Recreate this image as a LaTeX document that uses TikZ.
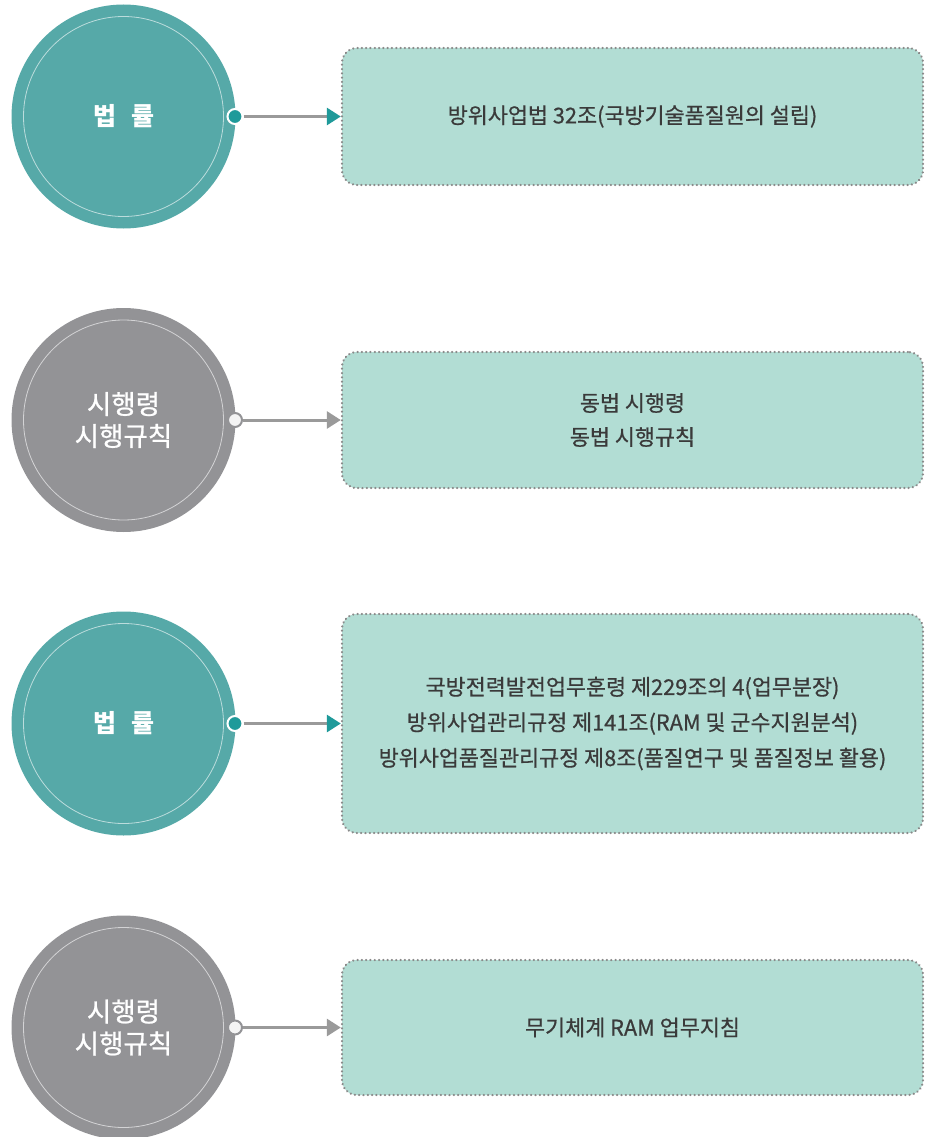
\documentclass[tikz,border=0pt]{standalone}
\usepackage{fontspec}
\setmainfont{Noto Sans CJK KR}
\newfontfamily\boxfont{Noto Sans CJK KR}[FakeBold=0.6]
\newfontfamily\circfont{Noto Sans CJK KR}[FakeBold=0.9]
\usetikzlibrary{arrows.meta}
\definecolor{tealc}{HTML}{56A9A8}
\definecolor{grayc}{HTML}{939396}
\definecolor{boxfill}{HTML}{B2DDD4}
\definecolor{boxline}{HTML}{8A8A8A}
\definecolor{connc}{HTML}{9A9A9A}
\definecolor{dotteal}{HTML}{1F9A9A}
\definecolor{txt}{HTML}{3A3A3A}
\tikzset{
  bigcirc/.style={circle, minimum size=224, inner sep=0pt},
  tealcirc/.style={bigcirc, fill=tealc},
  graycirc/.style={bigcirc, fill=grayc},
  ctext/.style={text=white, align=center, font=\circfont\fontsize{26.5}{32}\selectfont},
  databox/.style={draw=boxline, fill=boxfill, rounded corners=15, line width=2.4,
     dash pattern=on 0.1 off 4.2, line cap=round, minimum width=581, inner sep=0pt,
     text=txt, align=center, font=\boxfont\fontsize{21.8}{35.5}\selectfont},
  tealdot/.style={circle, fill=dotteal, draw=white, line width=2, minimum size=15, inner sep=0pt},
  graydot/.style={circle, fill=white!90!grayc, draw=grayc, line width=2, minimum size=14, inner sep=0pt},
  conn/.style={draw=connc, line width=3},
  tealarrow/.style={conn, -{Triangle[length=14,width=17,color=dotteal]}},
  grayarrow/.style={conn, -{Triangle[length=14,width=17,color=connc]}},
}
\begin{document}
\begin{tikzpicture}[x=1pt,y=-1pt]
\useasboundingbox (0,0) rectangle (925,1137);
% circles
\node[tealcirc] (c1) at (123.5,116.5) {};
\node[graycirc] (c2) at (123.5,420) {};
\node[tealcirc] (c3) at (123.5,723.5) {};
\node[graycirc] (c4) at (123.5,1027.5) {};
\foreach \c in {c1,c2,c3,c4}{
  \draw[white, opacity=0.6, line width=0.8] (\c.center) circle[radius=100];
}
\node[ctext, font=\fontsize{25}{32}\selectfont\bfseries] (t1) at (c1) {법\hspace{0.6em}률};
\node[ctext] (t2) at (c2) {시행령\\시행규칙};
\node[ctext, font=\fontsize{25}{32}\selectfont\bfseries] (t3) at (c3) {법\hspace{0.6em}률};
\node[ctext] (t4) at (c4) {시행령\\시행규칙};
% boxes
\node[databox, minimum height=137] (b1) at (632.5,116.5) {방위사업법 32조(국방기술품질원의 설립)};
\node[databox, minimum height=136, font=\boxfont\fontsize{21.8}{34}\selectfont] (b2) at (632.5,420) {동법 시행령\\동법 시행규칙};
\node[databox, minimum height=219] (b3) at (632.5,723.5) {국방전력발전업무훈령 제229조의 4(업무분장)\\방위사업관리규정 제141조(RAM 및 군수지원분석)\\방위사업품질관리규정 제8조(품질연구 및 품질정보 활용)};
\node[databox, minimum height=135] (b4) at (632.5,1027.5) {무기체계 RAM 업무지침};
% dots
\node[tealdot] (d1) at (235,116.5) {};
\node[graydot] (d2) at (235,420) {};
\node[tealdot] (d3) at (235,723.5) {};
\node[graydot] (d4) at (235,1027.5) {};
% connectors
\draw[tealarrow] (d1) -- (b1.west);
\draw[grayarrow] (d2) -- (b2.west);
\draw[tealarrow] (d3) -- (b3.west);
\draw[grayarrow] (d4) -- (b4.west);
\end{tikzpicture}
\end{document}
